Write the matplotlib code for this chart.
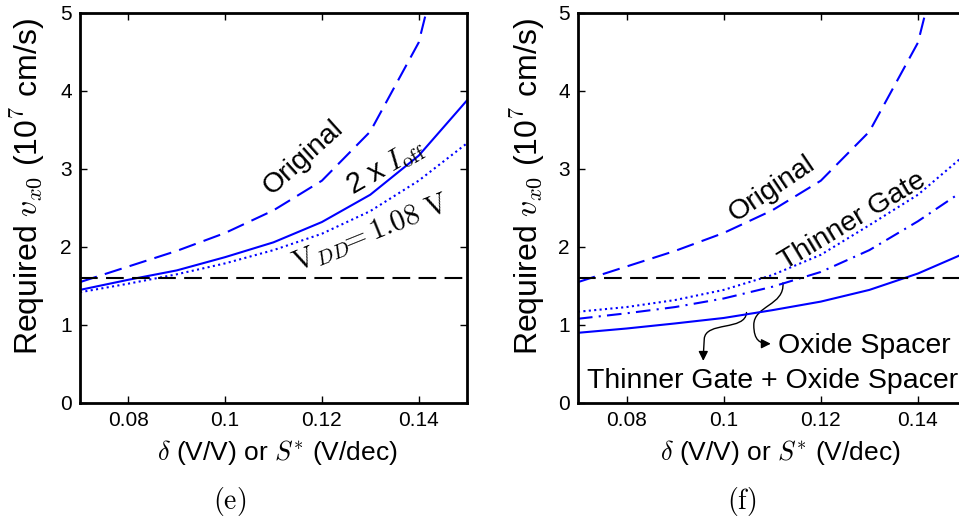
import matplotlib
matplotlib.use('Agg')
import matplotlib.pyplot as plt
from matplotlib.patches import FancyArrowPatch
from matplotlib.path import Path

plt.rcParams['font.family'] = ['Liberation Sans', 'DejaVu Sans']
plt.rcParams['mathtext.fontset'] = 'cm'

# values (x = delta or S*)
delta = [0.07, 0.08, 0.09, 0.10, 0.11, 0.12, 0.13, 0.14, 0.15]
original = [1.55, 1.75, 1.95, 2.18, 2.47, 2.85, 3.48, 4.62, 7.1]
twice_ioff = [1.45, 1.58, 1.70, 1.87, 2.06, 2.32, 2.67, 3.17, 3.88]
vdd_108 = [1.42, 1.53, 1.65, 1.79, 1.96, 2.17, 2.46, 2.85, 3.33]
thinner_gate = [1.17, 1.23, 1.32, 1.45, 1.64, 1.90, 2.28, 2.67, 3.20]
oxide_spacer = [1.08, 1.15, 1.23, 1.34, 1.49, 1.68, 1.96, 2.33, 2.75]
gate_and_spacer = [0.90, 0.955, 1.02, 1.09, 1.19, 1.30, 1.45, 1.66, 1.93]
target = 1.6

xticks = [0.08, 0.1, 0.12, 0.14]
xticklabels = ['0.08', '0.1', '0.12', '0.14']
yticks = [0, 1, 2, 3, 4, 5]

BLUE = '#0000ff'
DASH = (0, (8.5, 4))
DOT = (0, (1, 1.6))
DASHDOT = (0, (7, 3, 1, 3))

fig = plt.figure(figsize=(9.59, 5.17), dpi=100)
ax1 = fig.add_axes([80/959, 114/517, 387/959, 390/517])
ax2 = fig.add_axes([578/959, 114/517, 388.5/959, 390/517])


def style(ax, xlab_x, ylab_x):
    ax.set_xlim(0.07, 0.15)
    ax.set_ylim(0, 5)
    ax.set_xticks(xticks)
    ax.set_xticklabels(xticklabels)
    ax.set_yticks(yticks)
    ax.tick_params(direction='in', top=True, right=True, length=5, width=1,
                   labelsize=15, pad=6)
    for s in ax.spines.values():
        s.set_linewidth(2.0)
    ax.set_xlabel(r'$\delta$ (V/V) or $S^{*}$ (V/dec)', fontsize=19, va='center')
    ax.xaxis.set_label_coords(xlab_x, -0.126)
    ax.set_ylabel(r'Required $v_{x0}$ (10$^7$ cm/s)', fontsize=23, va='center')
    ax.yaxis.set_label_coords(ylab_x, 0.555)
    ax.axhline(target, color='k', lw=1.5, linestyle=DASH)


# (e)
ax1.plot(delta, original, color=BLUE, lw=1.5, linestyle=DASH)
ax1.plot(delta, twice_ioff, color=BLUE, lw=1.5, linestyle='-')
ax1.plot(delta, vdd_108, color=BLUE, lw=1.5, linestyle=DOT)
style(ax1, 0.51, -0.134)
ax1.text(0.1161, 3.15, 'Original', fontsize=20.5, rotation=42,
         ha='center', va='center', rotation_mode='anchor')
ax1.text(0.1332, 3.02, r'2 x $I_{\rm off}$', fontsize=21, rotation=30,
         ha='center', va='center', rotation_mode='anchor')
ax1.text(0.1302, 2.17, r'$\mathrm{V}_{DD}\!\!=1.08\ \mathrm{V}$', fontsize=21,
         rotation=22, ha='center', va='center', rotation_mode='anchor')

# (f)
ax2.plot(delta, original, color=BLUE, lw=1.5, linestyle=DASH)
ax2.plot(delta, thinner_gate, color=BLUE, lw=1.5, linestyle=DOT)
ax2.plot(delta, oxide_spacer, color=BLUE, lw=1.5, linestyle=DASHDOT)
ax2.plot(delta, gate_and_spacer, color=BLUE, lw=1.5, linestyle='-')
style(ax2, 0.52, -0.129)
ax2.text(0.1099, 2.75, 'Original', fontsize=20.5, rotation=34,
         ha='center', va='center', rotation_mode='anchor')
ax2.text(0.1265, 2.33, 'Thinner Gate', fontsize=20.5, rotation=31,
         ha='center', va='center', rotation_mode='anchor')
ax2.text(0.1112, 0.645, 'Oxide Spacer', fontsize=20.5, ha='left', va='baseline')
ax2.text(0.0719, 0.196, 'Thinner Gate + Oxide Spacer', fontsize=20.5,
         ha='left', va='baseline')

# curly arrows pointing from the curves to their labels
p1 = Path([(0.1122, 1.54), (0.1126, 1.25), (0.1062, 1.25), (0.1062, 1.0),
           (0.1062, 0.80), (0.1075, 0.76), (0.1097, 0.76)],
          [Path.MOVETO, Path.CURVE4, Path.CURVE4, Path.CURVE4,
           Path.CURVE4, Path.CURVE4, Path.CURVE4])
p2 = Path([(0.1047, 1.16), (0.1045, 0.92), (0.0962, 1.05), (0.0960, 0.82),
           (0.0959, 0.70), (0.0958, 0.62), (0.0958, 0.54)],
          [Path.MOVETO, Path.CURVE4, Path.CURVE4, Path.CURVE4,
           Path.CURVE4, Path.CURVE4, Path.CURVE4])
for p in (p1, p2):
    ax2.add_patch(FancyArrowPatch(path=p, arrowstyle='-|>', mutation_scale=14,
                                  color='k', lw=1.0))

fig.text(230/959, 1 - 502/517, r'$\mathrm{(e)}$', fontsize=20,
         ha='center', va='center')
fig.text(742/959, 1 - 502/517, r'$\mathrm{(f)}$', fontsize=20,
         ha='center', va='center')

fig.savefig('out.png', dpi=100)
